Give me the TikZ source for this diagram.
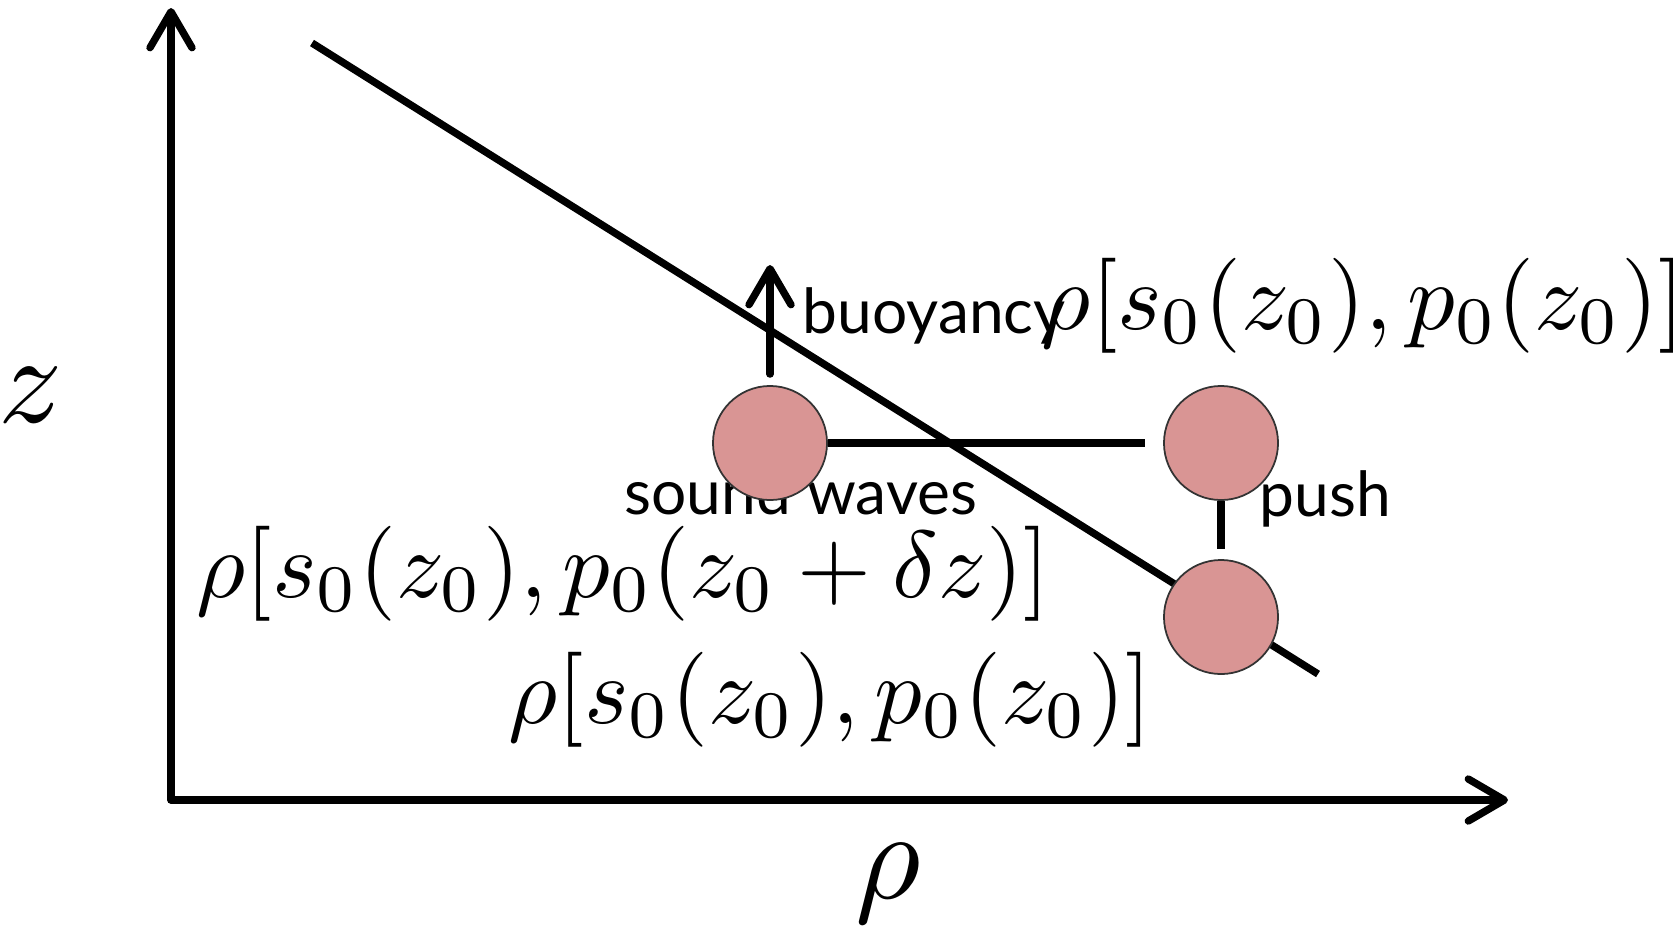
\documentclass[tikz,border=0pt]{standalone}
\usepackage{fontspec}
\newfontfamily\labelfont{Lato}
\usepackage{tikz}
\usetikzlibrary{arrows.meta,positioning}
\definecolor{parcelred}{RGB}{217,149,148}

\begin{document}
\begin{tikzpicture}[
  x=0.01cm, y=-0.01cm,
  >={Straight Barb[length=3.6mm,width=4.2mm,round]},
  axis/.style={line width=2.1pt, line cap=round, line join=round},
  thick line/.style={line width=2.1pt},
  parcel/.style={circle, draw=black!80, line width=0.5pt, fill=parcelred,
    minimum size=11.4mm, inner sep=0pt},
  eqn/.style={scale=2.7, inner sep=0pt},
  axislabel/.style={scale=3.6, inner sep=0pt},
  word/.style={font=\labelfont\fontsize{17.7}{20}\selectfont, inner sep=0pt}
]
\useasboundingbox (0,0) rectangle (1673,927);
% axes
\coordinate (ztip) at (171,8);
\coordinate (origin) at (171,800);
\coordinate (rhotip) at (1508,800);
\draw[axis,<->] (ztip) -- (origin) -- (rhotip);
\node[axislabel] (zlabel) at (31,395) {$z$};
\node[axislabel] (rholabel) at (888,884) {$\rho$};
% labels
\node[word,anchor=base west] (buoy) at (802,333) {buoyancy};
\node[word,anchor=base west] (sound) at (624,514) {sound waves};
\node[word,anchor=base west] (push) at (1259,516) {push};
\node[eqn,anchor=west] (rhotop) at (1040,306) {$\rho[s_0(z_0),p_0(z_0)]$};
\node[eqn,anchor=west] (rhomid) at (195,574)
  {$\rho[s_0(z_0),p_0(z_0+\delta z)]$};
\node[eqn,anchor=west] (rhobot) at (507,700) {$\rho[s_0(z_0),p_0(z_0)]$};
% profile
\coordinate (profA) at (312,43);
\coordinate (profB) at (1318,674);
\draw[thick line] (profA) -- (profB);
% parcels
\node[parcel] (start) at (770,443) {};
\node[parcel] (moved) at (1221,443) {};
\node[parcel] (ambient) at (1221,617) {};
\coordinate (waveend) at (1145,443);
\draw[thick line] (start.east) -- (waveend);
\coordinate (pushend) at (1221,549);
\draw[thick line] (moved.south) -- (pushend);
\coordinate (buoybase) at ([yshift=1.1mm]start.north);
\coordinate (buoytip) at (770,265);
\draw[axis,->] (buoybase) -- (buoytip);
\end{tikzpicture}
\end{document}
